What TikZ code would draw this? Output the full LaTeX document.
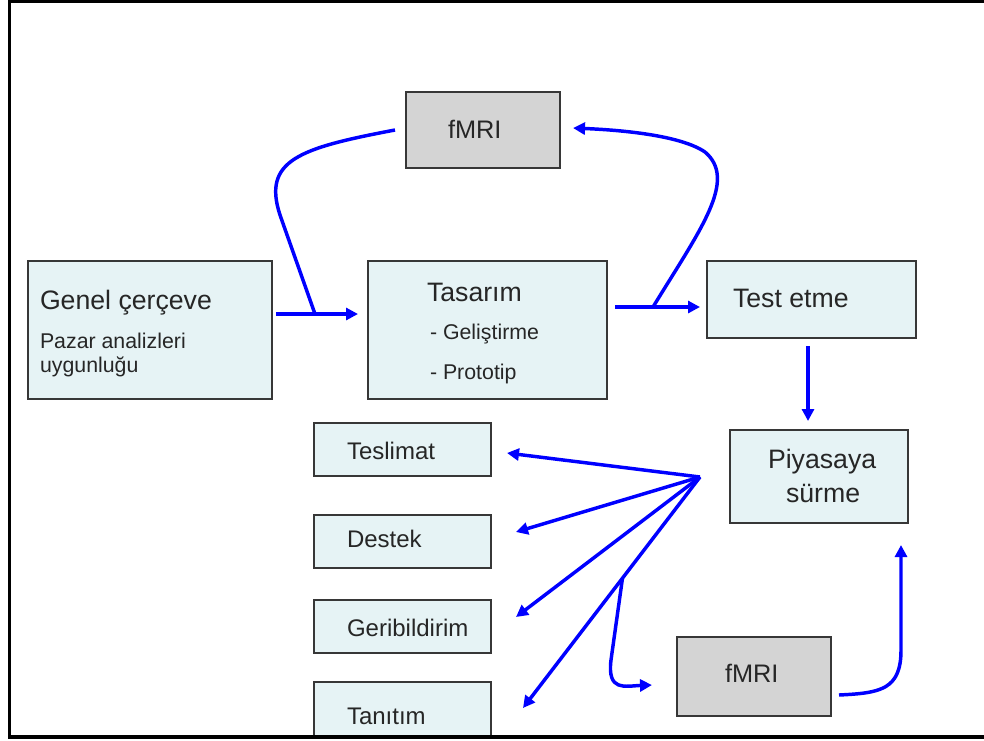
\documentclass[tikz,border=0pt]{standalone}
\usepackage{fontspec}
\setmainfont{Liberation Sans}
\usetikzlibrary{arrows.meta,calc}
\definecolor{boxblue}{RGB}{230,243,245}
\definecolor{boxgray}{RGB}{212,212,212}
\definecolor{boxedge}{RGB}{55,55,55}
\definecolor{arrblue}{RGB}{0,0,255}
\tikzset{
  lbox/.style={draw=boxedge, line width=1.1pt, fill=boxblue, inner sep=0pt, outer sep=0pt},
  gbox/.style={draw=boxedge, line width=1.1pt, fill=boxgray, inner sep=0pt, outer sep=0pt},
  txt/.style={anchor=base west, inner sep=0pt, outer sep=0pt, text=black!85},
  big/.style={font=\fontsize{20}{24}\selectfont},
  mid/.style={font=\fontsize{18}{22}\selectfont},
  fm/.style={font=\fontsize{19}{23}\selectfont},
  small/.style={font=\fontsize{16}{19}\selectfont},
  arr/.style={draw=arrblue, line width=2.6pt, -{Triangle[length=9pt,width=9pt]}},
  arrline/.style={draw=arrblue, line width=2.6pt}
}
\begin{document}
\begin{tikzpicture}[x=0.75pt,y=-0.75pt]
\useasboundingbox (0,0) rectangle (984,740);
\fill[white] (0,0) rectangle (984,740);

% boxes
\node[gbox, minimum width=115.5pt, minimum height=57pt] (fmriA) at (483,130) {};
\node[lbox, minimum width=183pt, minimum height=103.5pt] (genel) at (150,330) {};
\node[lbox, minimum width=179.25pt, minimum height=103.5pt] (tasarim) at (487.5,330) {};
\node[lbox, minimum width=156.75pt, minimum height=57.75pt] (test) at (811.5,299.5) {};
\node[lbox, minimum width=133.5pt, minimum height=69.75pt] (piyasa) at (819,476.5) {};
\node[lbox, minimum width=132.75pt, minimum height=39.75pt] (teslimat) at (402.5,449.5) {};
\node[lbox, minimum width=132.75pt, minimum height=39.75pt] (destek) at (402.5,541.5) {};
\node[lbox, minimum width=132.75pt, minimum height=39.75pt] (geri) at (402.5,626.5) {};
\node[lbox, minimum width=132.75pt, minimum height=42pt] (tanitim) at (402.5,710) {};
\node[gbox, minimum width=115.5pt, minimum height=59.25pt] (fmriB) at (754,676.5) {};

% texts
\node[txt, fm] (fmriAt) at (448,138) {fMRI};
\node[txt, big] (genelt) at (40,309) {Genel çerçeve};
\node[txt, small] (genelt2) at (40,348) {Pazar analizleri};
\node[txt, small] (genelt3) at (40,372) {uygunluğu};
\node[txt, big] (tasarimt) at (427,301) {Tasarım};
\node[txt, small] (tasarimt2) at (430,339) {- Geliştirme};
\node[txt, small] (tasarimt3) at (430,379) {- Prototip};
\node[txt, big] (testt) at (733,307.5) {Test etme};
\node[txt, big] (piyasat) at (768,468) {Piyasaya};
\node[txt, big] (piyasat2) at (786,502) {sürme};
\node[txt, mid] (teslimatt) at (347,459) {Teslimat};
\node[txt, mid] (destekt) at (347,547) {Destek};
\node[txt, mid] (gerit) at (347,636) {Geribildirim};
\node[txt, mid] (tanitimt) at (347,724) {Tanıtım};
\node[txt, fm] (fmriBt) at (725,682) {fMRI};

% connector end points
\coordinate (g1) at (276,314);
\coordinate (t1) at (358,314);
\coordinate (j1) at (315,314);
\coordinate (fa1) at (395,130);
\coordinate (ta1) at (615,307);
\coordinate (te1) at (700,307);
\coordinate (j2) at (653,307);
\coordinate (fa2) at (573,128);
\coordinate (te2) at (808,346);
\coordinate (pi1) at (808,421);
\coordinate (O) at (700,477);
\coordinate (ts) at (507,453);
\coordinate (ds) at (516,532);
\coordinate (gs) at (516,617);
\coordinate (tn) at (523,708);
\coordinate (j3) at (622.5,578);
\coordinate (fb1) at (652,685);
\coordinate (fb2) at (839,695);
\coordinate (pi2) at (901,545);

% connectors
\draw[arr] (g1) -- (t1);
\draw[arrline, line join=round] (fa1) .. controls (300,148) and (262,160) .. (280,215) -- (j1);
\draw[arr] (ta1) -- (te1);
\draw[arr] (j2) .. controls (700,230) and (738,180) .. (705,152) .. controls (680,135) and (620,130) .. (fa2);
\draw[arr] (te2) -- (pi1);
\draw[arr] (O) -- (ts);
\draw[arr] (O) -- (ds);
\draw[arr] (O) -- (gs);
\draw[arr] (O) -- (tn);
\draw[arr] (j3) -- (611,660) .. controls (607,692) and (625,686) .. (fb1);
\draw[arr] (fb2) .. controls (880,693) and (901,690) .. (901,650) -- (pi2);

% frame
\draw[line width=2.2pt] (8,1.5) -- (984,1.5);
\draw[line width=1.6pt] (9.5,0) -- (9.5,736);
\draw[line width=3.6pt] (8,737) -- (984,737);
\end{tikzpicture}
\end{document}
